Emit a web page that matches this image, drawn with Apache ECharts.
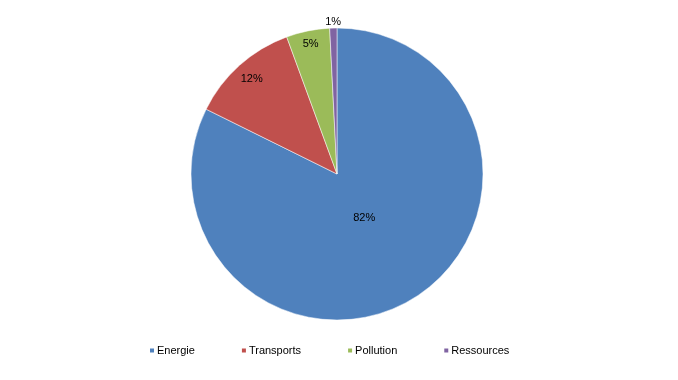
<!DOCTYPE html>
<html><head><meta charset="utf-8">
<script src="https://cdn.jsdelivr.net/npm/echarts@6/dist/echarts.min.js"></script>
<style>html,body{margin:0;padding:0;background:#fff}#c{width:678px;height:380px}</style>
</head><body><div id="c"></div>
<script>
var categories = ['Energie', 'Transports', 'Pollution', 'Ressources'];
var values = [82.4, 12.1, 4.8, 0.8];
var colors = ['#4F81BD', '#C0504D', '#9BBB59', '#8064A2'];
// label distance as fraction of radius (visual placement)
var labelRatio = [0.34, 0.84, 0.87, 1.0];

var CX = 337, CY = 174, R = 146;
var chart = echarts.init(document.getElementById('c'), null, {renderer: 'canvas'});
chart.setOption({
  animation: false,
  backgroundColor: '#fff',
  color: colors,
  legend: {
    bottom: 19, left: 143,
    itemWidth: 6, itemHeight: 6, itemGap: 45,
    icon: 'rect',
    textStyle: {fontFamily: 'Liberation Sans', fontSize: 11, color: '#000', padding: [0, 0, 0, -3]},
    data: categories
  },
  series: [{
    type: 'pie',
    center: [CX, CY],
    radius: [0, R],
    startAngle: 90,
    clockwise: true,
    avoidLabelOverlap: false,
    itemStyle: {borderColor: '#fff', borderWidth: 0.5},
    label: {
      show: true, position: 'inside',
      formatter: function (p) { return Math.round(p.percent) + '%'; },
      fontFamily: 'Liberation Sans', fontSize: 11, color: '#000'
    },
    labelLine: {show: false},
    labelLayout: function (p) {
      var r = p.labelRect;
      var lx = r.x + r.width / 2, ly = r.y + r.height / 2;
      var k = labelRatio[p.dataIndex] / 0.5 - 1;
      return {dx: (lx - CX) * k, dy: (ly - CY) * k};
    },
    emphasis: {disabled: true},
    data: categories.map(function (c, i) { return {name: c, value: values[i]}; })
  }]
});
</script></body></html>
